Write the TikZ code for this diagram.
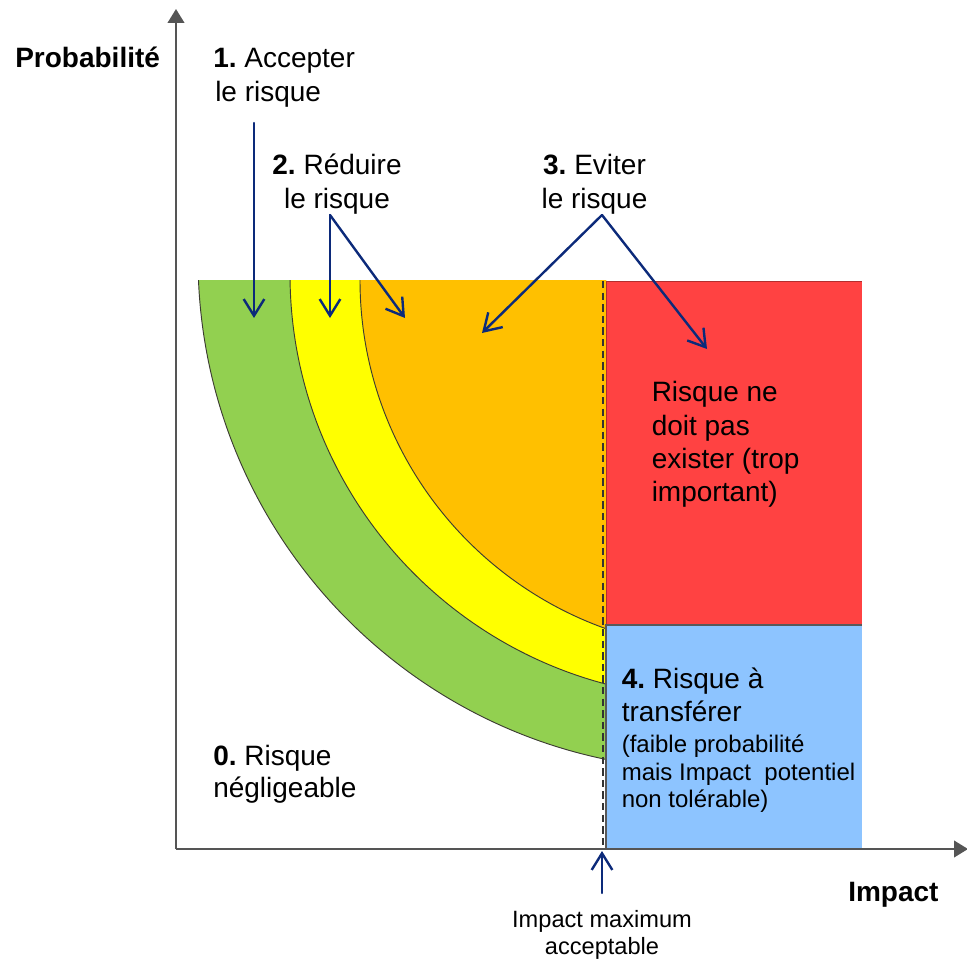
\documentclass[tikz,border=0pt]{standalone}
\usepackage{fontspec}
\setmainfont{Liberation Sans}
\usetikzlibrary{arrows.meta}
\frenchspacing

\definecolor{bandgreen}{RGB}{146,208,80}
\definecolor{bandyellow}{RGB}{255,255,0}
\definecolor{bandorange}{RGB}{255,192,0}
\definecolor{riskred}{RGB}{255,66,66}
\definecolor{riskblue}{RGB}{141,196,255}
\definecolor{pointernavy}{RGB}{12,42,122}
\definecolor{axisgray}{RGB}{85,85,85}
\definecolor{arcline}{RGB}{60,60,50}

\tikzset{
  big/.style={font=\fontsize{21}{25}\selectfont, inner sep=0pt},
  small/.style={font=\fontsize{18}{21}\selectfont, inner sep=0pt},
  note/.style={font=\fontsize{17.7}{21}\selectfont, inner sep=0pt},
  pointer/.style={draw=pointernavy, line width=1.8pt, line cap=round,
    -{Straight Barb[length=12.5pt,width=15.5pt,line width=1.8pt]}},
  axisline/.style={draw=axisgray, line width=1.5pt,
    -{Triangle[length=10.5pt,width=12.5pt]}},
  bandedge/.style={draw=arcline, line width=0.7pt},
  limitline/.style={draw=black!80, line width=1.9pt, dash pattern=on 5.5pt off 3.2pt},
}

\begin{document}
\begin{tikzpicture}[x=0.75pt,y=-0.75pt]
\useasboundingbox (0,0) rectangle (967,959);

% concentric risk bands, cut off at the acceptable-impact limit
\begin{scope}
  \clip (150,281) rectangle (606,870);
  \path[fill=bandgreen, bandedge] (710,258) circle[radius=384pt];
  \path[fill=bandyellow, bandedge] (714,274) circle[radius=318pt];
  \path[fill=bandorange, bandedge] (730,280) circle[radius=277.5pt];
\end{scope}

% zones beyond the acceptable impact
\fill[riskred] (606,281) rectangle (862,625);
\draw[draw=riskred!70!black, line width=0.7pt] (606,625) -- (606,281) -- (862,281);
\fill[riskblue] (606,625) rectangle (862,849);
\draw[draw=black!65, line width=0.8pt] (606,849) -- (606,625) -- (862,625);

% acceptable-impact limit
\coordinate (limtop) at (603,281);
\coordinate (limbot) at (603,849);
\draw[limitline] (limtop) -- (limbot);

% axes
\coordinate (origin) at (176,849);
\coordinate (ytip) at (176,9);
\coordinate (xtip) at (968,849);
\draw[axisline] (origin) -- (ytip);
\draw[axisline] (origin) -- (xtip);

% axis titles
\node[big, anchor=base west] (ytitle) at (15,68) {\textbf{Probabilité}};
\node[big, anchor=base west] (xtitle) at (848,901.7) {\textbf{Impact}};

% strategy labels
\node[big, anchor=base west] (acceptA) at (213,68) {\textbf{1.} Accepter};
\node[big, anchor=base west] (acceptB) at (215,101.7) {le risque};

\node[big, anchor=base] (reduceA) at (337,175) {\textbf{2.} Réduire};
\node[big, anchor=base] (reduceB) at (337,208.3) {le risque};

\node[big, anchor=base] (avoidA) at (594.5,175) {\textbf{3.} Eviter};
\node[big, anchor=base] (avoidB) at (594.5,208.3) {le risque};

\node[big, anchor=base west] (redA) at (651.5,401.7) {Risque ne};
\node[big, anchor=base west] (redB) at (651.5,435) {doit pas};
\node[big, anchor=base west] (redC) at (651.5,468.3) {exister (trop};
\node[big, anchor=base west] (redD) at (651.5,501.7) {important)};

\node[big, anchor=base west] (transA) at (621.5,688.3) {\textbf{4.} Risque à};
\node[big, anchor=base west] (transB) at (621.5,721.7) {transférer};
\node[small, anchor=base west] (transC) at (621.5,752.5) {(faible probabilité};
\node[small, anchor=base west] (transD) at (621.5,780) {mais Impact\ \ potentiel};
\node[small, anchor=base west] (transE) at (621.5,807.3) {non tolérable)};

\node[big, anchor=base west] (lowA) at (213,765) {\textbf{0.} Risque};
\node[big, anchor=base west] (lowB) at (213,797.3) {négligeable};

\node[note, anchor=base] (limitA) at (602,927.3) {Impact maximum};
\node[note, anchor=base] (limitB) at (602,954) {acceptable};

% pointers
\coordinate (acceptFrom) at (254,123);
\coordinate (acceptTo) at (254,318);
\coordinate (reduceFrom) at (330,215);
\coordinate (reduceToA) at (330,318);
\coordinate (reduceToB) at (405,318);
\coordinate (avoidFrom) at (602,215);
\coordinate (avoidToA) at (482,333);
\coordinate (avoidToB) at (707,349);
\coordinate (limitFrom) at (602,893);
\coordinate (limitTo) at (602,851);

\draw[pointer] (acceptFrom) -- (acceptTo);
\draw[pointer] (reduceFrom) -- (reduceToA);
\draw[pointer] (reduceFrom) -- (reduceToB);
\draw[pointer] (avoidFrom) -- (avoidToA);
\draw[pointer] (avoidFrom) -- (avoidToB);
\draw[pointer] (limitFrom) -- (limitTo);
\end{tikzpicture}
\end{document}
